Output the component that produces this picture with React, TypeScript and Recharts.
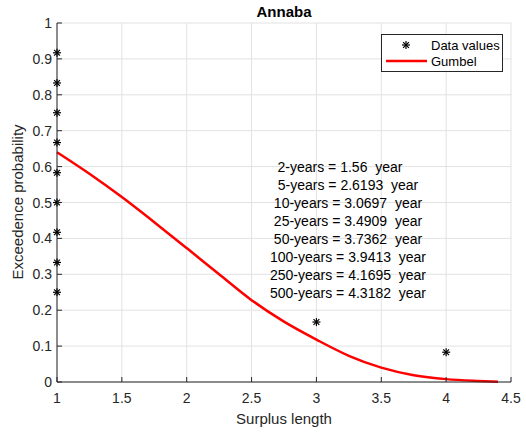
import { CartesianGrid, ComposedChart, Line, Scatter, XAxis, YAxis } from 'recharts';

// observed exceedance probabilities (plotting positions)
const DATA_X = [1, 1, 1, 1, 1, 1, 1, 1, 1, 3, 4];
const DATA_P = [0.917, 0.833, 0.75, 0.667, 0.583, 0.5, 0.417, 0.333, 0.25, 0.167, 0.083];

// fitted Gumbel curve
const CURVE_X = [1, 1.25, 1.5, 1.75, 2, 2.25, 2.5, 2.75, 3, 3.25, 3.5, 3.75, 4, 4.25, 4.4];
const CURVE_P = [0.64, 0.58, 0.515, 0.445, 0.373, 0.3, 0.228, 0.168, 0.118, 0.073, 0.04, 0.019, 0.008, 0.003, 0.001];

const X_TICKS = [1, 1.5, 2, 2.5, 3, 3.5, 4, 4.5];
const Y_TICKS = [0, 0.1, 0.2, 0.3, 0.4, 0.5, 0.6, 0.7, 0.8, 0.9, 1];

const RETURN_PERIODS = [2, 5, 10, 25, 50, 100, 250, 500];
const RETURN_VALUES = ['1.56', '2.6193', '3.0697', '3.4909', '3.7362', '3.9413', '4.1695', '4.3182'];

const scatterData = DATA_X.map((x, i) => ({ x, p: DATA_P[i] }));
const curveData = CURVE_X.map((x, i) => ({ x, p: CURVE_P[i] }));

const AXIS = '#262626';
const FONT = '"Liberation Sans", Arial, Helvetica, sans-serif';

function Asterisk({ cx, cy }: any) {
  const r = 4;
  const d = 2.9;
  return (
    <g stroke="#000" strokeWidth={1.2}>
      <line x1={cx} y1={cy - r} x2={cx} y2={cy + r} />
      <line x1={cx - r} y1={cy} x2={cx + r} y2={cy} />
      <line x1={cx - d} y1={cy - d} x2={cx + d} y2={cy + d} />
      <line x1={cx - d} y1={cy + d} x2={cx + d} y2={cy - d} />
    </g>
  );
}

function BottomTick({ x, y, payload }: any) {
  return (
    <g>
      <line x1={x} y1={y} x2={x} y2={y - 5} stroke={AXIS} />
      <text x={x} y={y + 21} textAnchor="middle" fontSize={14} fill={AXIS} fontFamily={FONT}>
        {payload.value}
      </text>
    </g>
  );
}

function LeftTick({ x, y, payload }: any) {
  return (
    <g>
      <line x1={x} y1={y} x2={x + 5} y2={y} stroke={AXIS} />
      <text x={x - 5} y={y + 5} textAnchor="end" fontSize={14} fill={AXIS} fontFamily={FONT}>
        {payload.value}
      </text>
    </g>
  );
}

function TopTick({ x, y }: any) {
  return <line x1={x} y1={y} x2={x} y2={y + 5} stroke={AXIS} />;
}

function RightTick({ x, y }: any) {
  return <line x1={x} y1={y} x2={x - 5} y2={y} stroke={AXIS} />;
}

export default function App() {
  return (
    <div style={{ position: 'absolute', left: 0, top: 0, width: 526, height: 432, background: '#fff' }}>
      <ComposedChart width={526} height={432} margin={{ top: 23, right: 15, bottom: 0, left: 0 }}>
        <CartesianGrid xAxisId="x" yAxisId="y" stroke="#e2e2e2" />
        <XAxis
          xAxisId="x"
          dataKey="x"
          type="number"
          domain={[1, 4.5]}
          ticks={X_TICKS}
          interval={0}
          height={50}
          tickSize={0}
          tickMargin={0}
          tickLine={false}
          axisLine={{ stroke: AXIS }}
          tick={<BottomTick />}
        />
        <XAxis
          xAxisId="xt"
          orientation="top"
          type="number"
          domain={[1, 4.5]}
          ticks={X_TICKS}
          interval={0}
          height={0}
          tickSize={0}
          tickMargin={0}
          tickLine={false}
          axisLine={{ stroke: AXIS }}
          tick={<TopTick />}
        />
        <YAxis
          yAxisId="y"
          dataKey="p"
          type="number"
          domain={[0, 1]}
          ticks={Y_TICKS}
          interval={0}
          width={57}
          tickSize={0}
          tickMargin={0}
          tickLine={false}
          axisLine={{ stroke: AXIS }}
          tick={<LeftTick />}
        />
        <YAxis
          yAxisId="yr"
          orientation="right"
          type="number"
          domain={[0, 1]}
          ticks={Y_TICKS}
          interval={0}
          width={0}
          tickSize={0}
          tickMargin={0}
          tickLine={false}
          axisLine={{ stroke: AXIS }}
          tick={<RightTick />}
        />
        <Line
          xAxisId="x"
          yAxisId="y"
          data={curveData}
          dataKey="p"
          type="monotone"
          stroke="#ff0000"
          strokeWidth={2.5}
          dot={false}
          isAnimationActive={false}
        />
        <Scatter
          xAxisId="x"
          yAxisId="y"
          data={scatterData}
          dataKey="p"
          shape={(props: any) => <Asterisk {...props} />}
          isAnimationActive={false}
        />
      </ComposedChart>

      <svg
        width={526}
        height={432}
        style={{ position: 'absolute', left: 0, top: 0, pointerEvents: 'none' }}
        fontFamily={FONT}
      >
        <text x={284} y={17} textAnchor="middle" fontSize={15} fontWeight="bold" fill="#000">
          Annaba
        </text>
        <text x={284} y={424} textAnchor="middle" fontSize={15} fill={AXIS}>
          Surplus length
        </text>
        <text
          x={0}
          y={0}
          transform="translate(23,202) rotate(-90)"
          textAnchor="middle"
          fontSize={15}
          fill={AXIS}
        >
          Exceedence probability
        </text>

        {RETURN_PERIODS.map((p, i) => (
          <text
            key={p}
            x={i === 0 ? 340 : 348}
            y={172 + i * 18}
            textAnchor="middle"
            fontSize={14}
            fill="#000"
            style={{ whiteSpace: 'pre' }}
          >
            {`${p}-years = ${RETURN_VALUES[i]}  year`}
          </text>
        ))}

        <g transform="translate(381,34)">
          <rect x={0.5} y={0.5} width={121} height={37} fill="#fff" stroke={AXIS} />
          <Asterisk cx={25} cy={11} />
          <text x={50} y={16} fontSize={13} fill="#000">
            Data values
          </text>
          <line x1={5} y1={27} x2={46} y2={27} stroke="#ff0000" strokeWidth={2.5} />
          <text x={50} y={32} fontSize={13} fill="#000">
            Gumbel
          </text>
        </g>
      </svg>
    </div>
  );
}
